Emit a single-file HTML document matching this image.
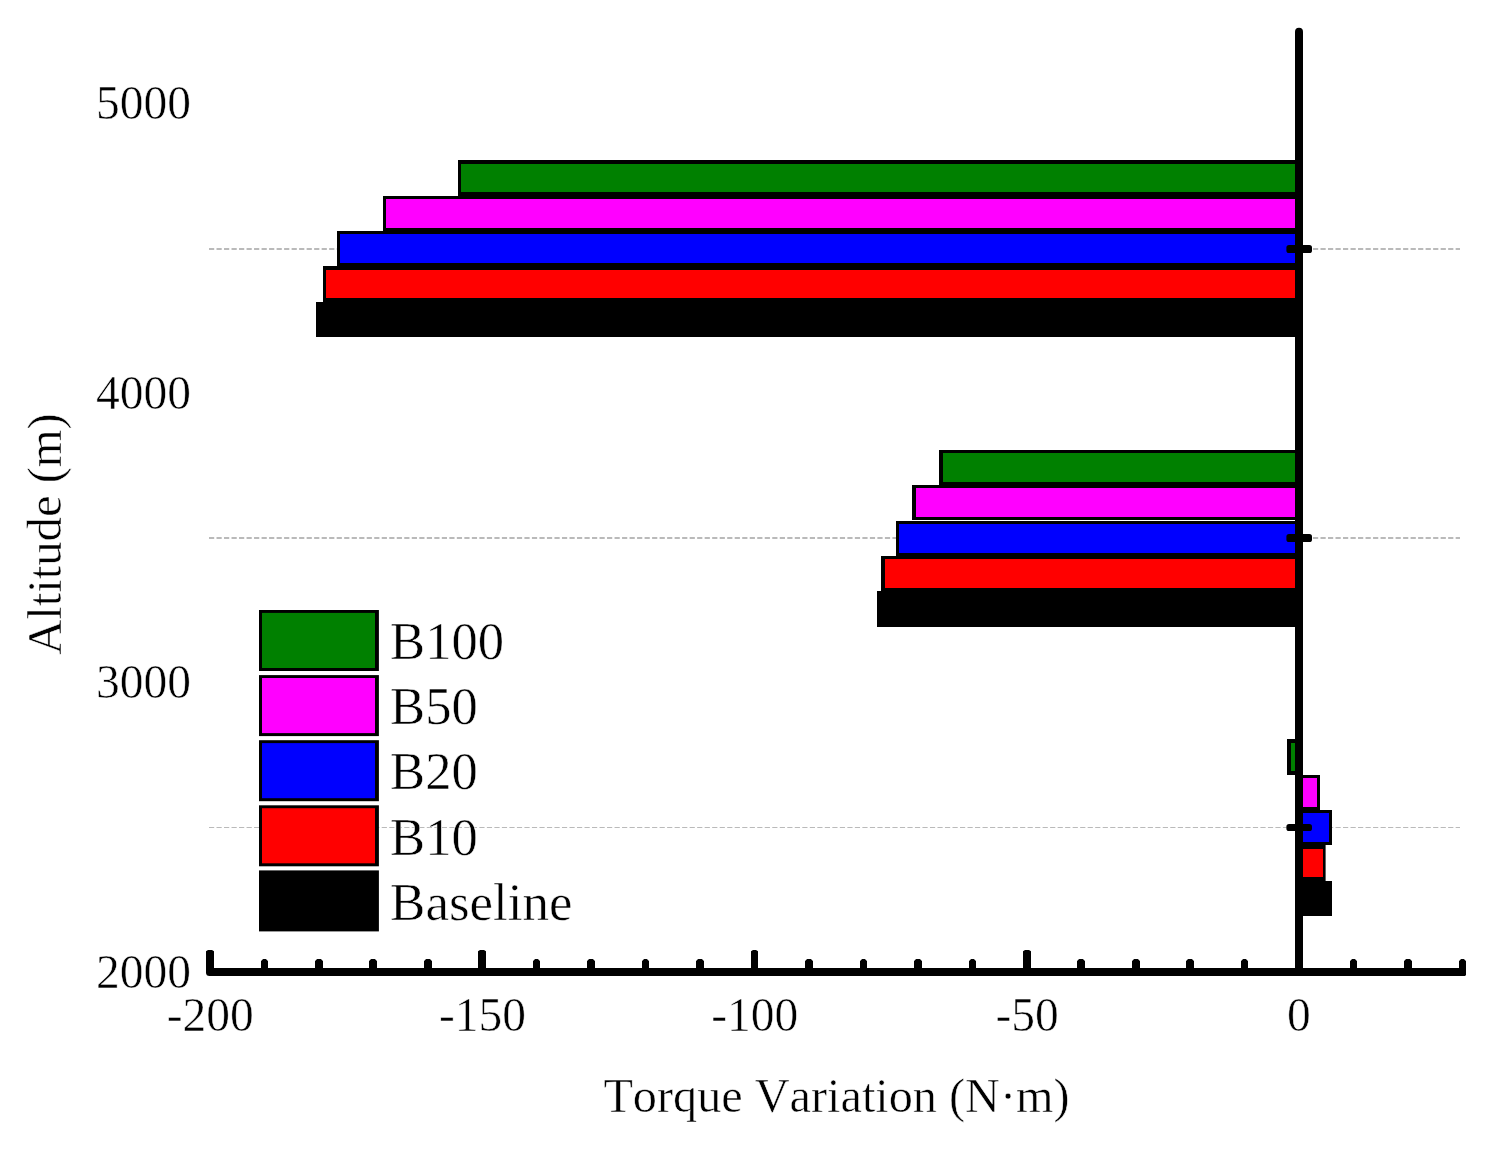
<!DOCTYPE html>
<html><head><meta charset="utf-8"><title>Torque Variation vs Altitude</title>
<style>html,body{margin:0;padding:0;background:#fff;}body{width:1499px;height:1150px;overflow:hidden;}svg{display:block;will-change:transform;}text{font-family:"Liberation Serif",serif;fill:#000;font-kerning:none;stroke:#fff;stroke-width:0.5px;paint-order:fill stroke;}</style></head><body>
<svg width="1499" height="1150" viewBox="0 0 1499 1150">
<rect x="0" y="0" width="1499" height="1150" fill="#ffffff"/>
<g stroke="#bababa" fill="none" stroke-dasharray="5.2 2.31">
<line x1="209" y1="249" x2="1460" y2="249" stroke-width="2"/>
<line x1="209" y1="538" x2="1460" y2="538" stroke-width="2"/>
<line x1="209" y1="827.5" x2="1460" y2="827.5" stroke-width="1"/>
</g>
<g>
<rect x="458" y="160" width="841" height="36" fill="#000000"/>
<rect x="461" y="164" width="838" height="28" fill="#008000"/>
<rect x="383" y="196" width="916" height="35" fill="#000000"/>
<rect x="386" y="199" width="913" height="29" fill="#ff00ff"/>
<rect x="337" y="231" width="962" height="35" fill="#000000"/>
<rect x="340" y="234" width="959" height="29" fill="#0000ff"/>
<rect x="323" y="266" width="976" height="36" fill="#000000"/>
<rect x="326" y="270" width="973" height="28" fill="#ff0000"/>
<rect x="316" y="302" width="983" height="35" fill="#000000"/>
<rect x="939" y="450" width="360" height="35" fill="#000000"/>
<rect x="943" y="453" width="356" height="29" fill="#008000"/>
<rect x="912" y="485" width="387" height="35" fill="#000000"/>
<rect x="916" y="488" width="383" height="29" fill="#ff00ff"/>
<rect x="896" y="521" width="403" height="35" fill="#000000"/>
<rect x="899" y="524" width="400" height="29" fill="#0000ff"/>
<rect x="881" y="556" width="418" height="35" fill="#000000"/>
<rect x="885" y="559" width="414" height="29" fill="#ff0000"/>
<rect x="877" y="591" width="422" height="36" fill="#000000"/>
<rect x="1287" y="739" width="12" height="36" fill="#000000"/>
<rect x="1291" y="743" width="8" height="28" fill="#008000"/>
<rect x="1299" y="775" width="21" height="35" fill="#000000"/>
<rect x="1299" y="778" width="18" height="29" fill="#ff00ff"/>
<rect x="1299" y="810" width="33" height="35" fill="#000000"/>
<rect x="1299" y="813" width="30" height="29" fill="#0000ff"/>
<rect x="1299" y="845" width="26.6" height="36" fill="#000000"/>
<rect x="1299" y="849" width="24" height="28" fill="#ff0000"/>
<rect x="1299" y="881" width="33" height="35" fill="#000000"/>
</g>
<g stroke="#000" stroke-width="7.80" fill="none" stroke-linecap="round">
<path d="M206 968H1466V975L1465 976H209.5Q206 976 206 972.5Z" fill="#000" stroke="none"/>
<path d="M1299 972.0 V31.8" stroke-width="8"/>
</g>
<path d="M206 972V951.2L208 949.9H212L214 951.2V972ZM261 972V961.2L262 960L263.2 958.9H265.8L267 960L268 961.2V972ZM315 972V961.2L316 960L317.2 958.9H320.8L322 960L323 961.2V972ZM369 972V961.2L370 960L371.2 958.9H374.8L376 960L377 961.2V972ZM424 972V961.2L425 960L426.2 958.9H429.8L431 960L432 961.2V972ZM478 972V951.2L480 949.9H484L486 951.2V972ZM533 972V961.2L534 960L535.2 958.9H537.8L539 960L540 961.2V972ZM587 972V961.2L588 960L589.2 958.9H592.8L594 960L595 961.2V972ZM642 972V961.2L643 960L644.2 958.9H646.8L648 960L649 961.2V972ZM696 972V961.2L697 960L698.2 958.9H701.8L703 960L704 961.2V972ZM751 972V951.2L753 949.9H756L758 951.2V972ZM805 972V961.2L806 960L807.2 958.9H810.8L812 960L813 961.2V972ZM860 972V961.2L861 960L862.2 958.9H864.8L866 960L867 961.2V972ZM914 972V961.2L915 960L916.2 958.9H919.8L921 960L922 961.2V972ZM969 972V961.2L970 960L971.2 958.9H973.8L975 960L976 961.2V972ZM1023 972V951.2L1025 949.9H1029L1031 951.2V972ZM1077 972V961.2L1078 960L1079.2 958.9H1082.8L1084 960L1085 961.2V972ZM1132 972V961.2L1133 960L1134.2 958.9H1137.8L1139 960L1140 961.2V972ZM1186 972V961.2L1187 960L1188.2 958.9H1191.8L1193 960L1194 961.2V972ZM1241 972V961.2L1242 960L1243.2 958.9H1245.8L1247 960L1248 961.2V972ZM1295 972V951.2L1297 949.9H1301L1303 951.2V972ZM1350 972V961.2L1351 960L1352.2 958.9H1354.8L1356 960L1357 961.2V972ZM1404 972V961.2L1405 960L1406.2 958.9H1409.8L1411 960L1412 961.2V972ZM1459 972V961.2L1460 960L1461.2 958.9H1463.8L1465 960L1466 961.2V972Z" fill="#000"/>
<rect x="1286.4" y="245" width="25.6" height="8" rx="2.6" ry="2.6" fill="#000"/>
<rect x="1286.4" y="534" width="25.6" height="8" rx="2.6" ry="2.6" fill="#000"/>
<rect x="1286.4" y="824" width="25.6" height="7" rx="2.6" ry="2.6" fill="#000"/>
<g font-size="47.5px">
<text x="210.2" y="1030.8" text-anchor="middle">-200</text>
<text x="482.5" y="1030.8" text-anchor="middle">-150</text>
<text x="754.8" y="1030.8" text-anchor="middle">-100</text>
<text x="1027.1" y="1030.8" text-anchor="middle">-50</text>
<text x="1298.9" y="1030.8" text-anchor="middle">0</text>
<text x="191" y="118.6" text-anchor="end">5000</text>
<text x="191" y="409.0" text-anchor="end">4000</text>
<text x="191" y="698.0" text-anchor="end">3000</text>
<text x="191" y="987.6" text-anchor="end">2000</text>
</g>
<text x="836.5" y="1112" font-size="48.25px" text-anchor="middle">Torque Variation (N·m)</text>
<text transform="translate(61.3 534) rotate(-90)" font-size="48.6px" text-anchor="middle">Altitude (m)</text>
<g>
<rect x="259" y="610" width="119.9" height="61" fill="#000000"/>
<rect x="262" y="612.9" width="113" height="55.1" fill="#008000"/>
<rect x="259" y="675.1" width="119.9" height="61" fill="#000000"/>
<rect x="262" y="678" width="113" height="55.1" fill="#ff00ff"/>
<rect x="259" y="740.2" width="119.9" height="61" fill="#000000"/>
<rect x="262" y="743.1" width="113" height="55.1" fill="#0000ff"/>
<rect x="259" y="805.3" width="119.9" height="61" fill="#000000"/>
<rect x="262" y="808.2" width="113" height="55.1" fill="#ff0000"/>
<rect x="259" y="870.4" width="119.9" height="61" fill="#000000"/>
</g>
<g font-size="52.6px">
<text x="390.1" y="658.6">B100</text>
<text x="390.1" y="723.9">B50</text>
<text x="390.1" y="789.2">B20</text>
<text x="390.1" y="854.5">B10</text>
<text x="390.1" y="919.8" font-size="53px">Baseline</text>
</g>
</svg></body></html>
